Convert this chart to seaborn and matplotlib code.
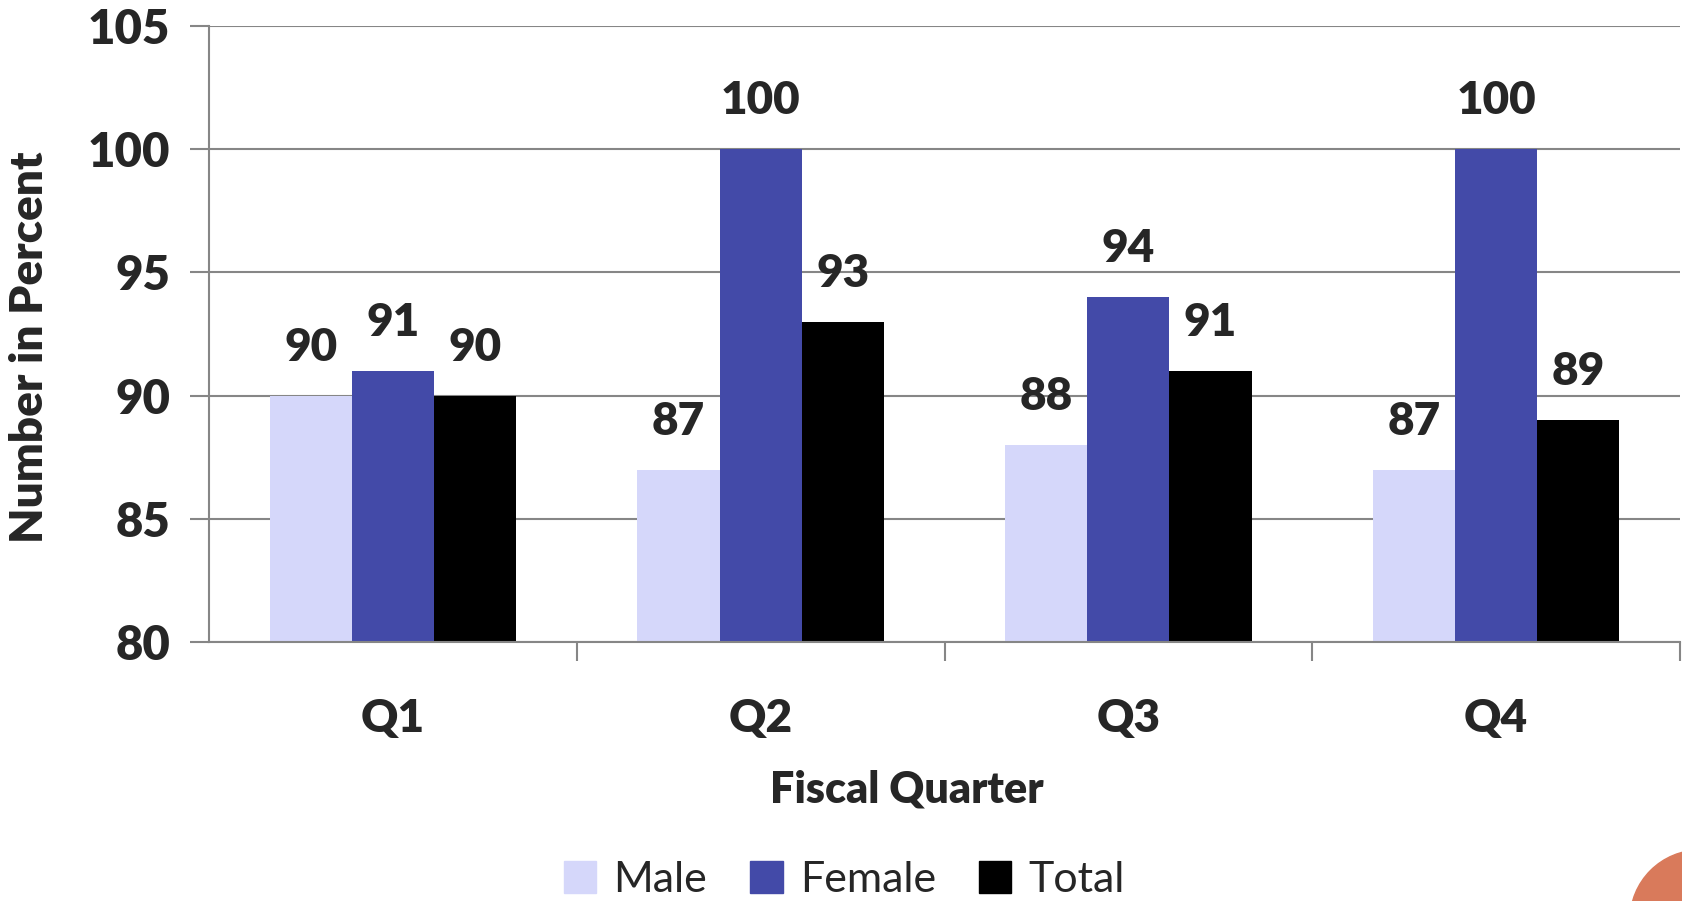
import pandas as pd
import matplotlib.pyplot as plt
import matplotlib.patches as mpatches
import seaborn as sns

quarters = ['Q1', 'Q2', 'Q3', 'Q4']
male = [90, 87, 88, 87]
female = [91, 100, 94, 100]
total = [90, 93, 91, 89]

series_names = ['Male', 'Female', 'Total']
colors = {'Male': '#D5D7FA', 'Female': '#434AA8', 'Total': '#000000'}

df = pd.DataFrame({
    'Quarter': quarters * 3,
    'Value': male + female + total,
    'Series': ['Male'] * 4 + ['Female'] * 4 + ['Total'] * 4,
})

sns.set_theme(style='white')
plt.rcParams['font.family'] = ['Lato', 'DejaVu Sans']
W = 'heavy'

fig = plt.figure(figsize=(16.82, 9.01), dpi=100)
ax = fig.add_axes([0.1243, 0.2875, 0.8745, 0.6836])

sns.barplot(data=df, x='Quarter', y='Value', hue='Series', hue_order=series_names,
            palette=colors, width=0.67, saturation=1, linewidth=0, ax=ax, legend=False)

ax.set_ylim(80, 105)
ax.set_xlim(-0.5, 3.5)
ax.set_yticks([80, 85, 90, 95, 100, 105])
ax.yaxis.grid(True, color='#868686', linewidth=1.5)
ax.set_axisbelow(True)

for c in ax.containers:
    ax.bar_label(c, fmt='%d', padding=20, fontsize=33, fontweight=W)

for s in ['top', 'right']:
    ax.spines[s].set_visible(False)
for s in ['left', 'bottom']:
    ax.spines[s].set_color('#868686')
    ax.spines[s].set_linewidth(1.5)

ax.tick_params(axis='y', which='major', length=14, width=1.5, color='#868686',
               labelsize=34, pad=14, direction='out', left=True)
ax.tick_params(axis='x', which='major', length=0, labelsize=33, pad=40)
ax.set_xticks([0.5, 1.5, 2.5, 3.5], minor=True)
ax.tick_params(axis='x', which='minor', length=14, width=1.5, color='#868686',
               direction='out', bottom=True)
for lbl in ax.get_xticklabels() + ax.get_yticklabels():
    lbl.set_fontweight(W)

ax.set_xlabel('Fiscal Quarter', fontsize=31, fontweight=W, va='center')
ax.set_ylabel('Number in Percent', fontsize=33, fontweight=W, va='center')
ax.xaxis.set_label_coords(0.4745, -0.240)
ax.yaxis.set_label_coords(-0.1224, 0.479)

handles = [mpatches.Patch(color=colors[n], label=n) for n in series_names]
fig.legend(handles=handles, loc='center', bbox_to_anchor=(0.502, 0.023), ncol=3,
           frameon=False, fontsize=31, handlelength=0.75, handleheight=0.75,
           handletextpad=0.4, columnspacing=1.0, borderpad=0.1)

circle = mpatches.Circle((17.00, -0.19), 0.70, transform=fig.dpi_scale_trans,
                         color='#D97A5B', clip_on=False)
fig.patches.append(circle)

fig.savefig('out.png', dpi=100)
